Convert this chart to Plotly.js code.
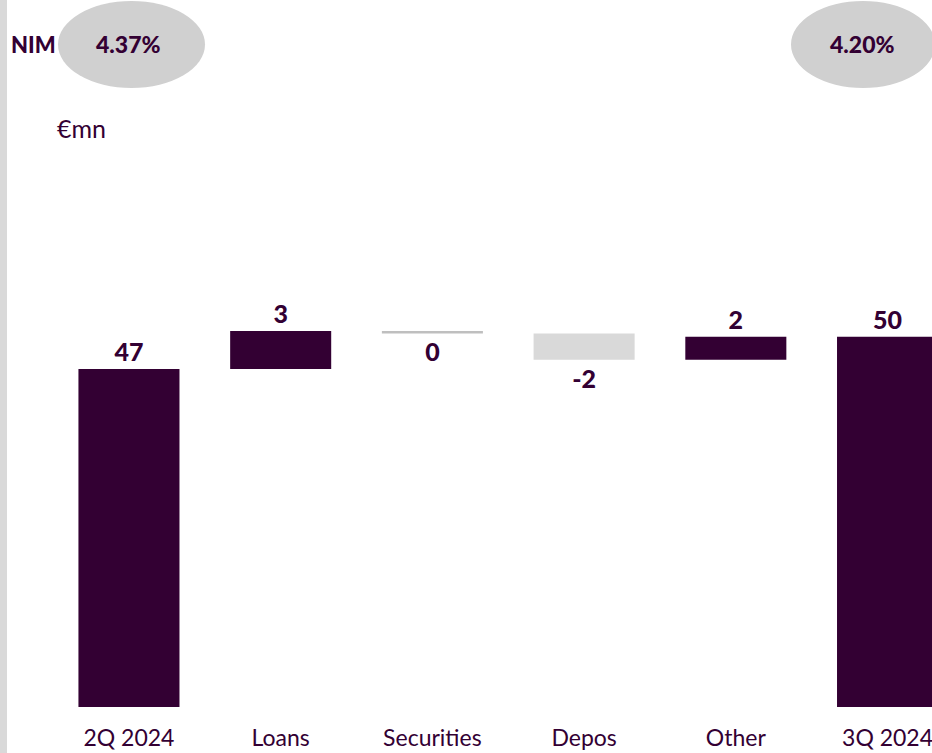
<!DOCTYPE html>
<html><head><meta charset="utf-8">
<script src="https://cdn.plot.ly/plotly-3.0.1.min.js"></script>
<style>html,body{margin:0;padding:0;background:#fff}#chart{width:932px;height:753px}</style>
</head><body><div id="chart"></div>
<script>
const categories = ["2Q 2024", "Loans", "Securities", "Depos", "Other", "3Q 2024"];
const measures = ["total", "relative", "relative", "relative", "relative", "total"];
const values = [47.3, 3.3, -0.2, -2.3, 2.0, 50.1];
const barColors = ["#330033", "#330033", "#bfbfbf", "#d9d9d9", "#330033", "#330033"];
const nimLabels = ["4.37%", "4.20%"];
const unitLabel = "€mn";

const W = 932, H = 753, B = 46, PH = H - B;
const bases = [], heights = [];
let run = 0;
values.forEach((v, i) => {
  if (measures[i] === "total") { bases.push(0); heights.push(v); run = v; }
  else { bases.push(run); heights.push(v); run += v; }
});
const labels = values.map(v => { const r = Math.round(v); return (r === 0 ? 0 : r).toString(); });

const purple = "#330033";
const trace = {
  type: "bar", x: categories, y: heights, base: bases,
  marker: {color: barColors},
  width: 0.666,
  text: labels, textposition: "outside", cliponaxis: false, constraintext: "none",
  textfont: {family: "Lato, sans-serif", size: 25, color: purple, weight: 900},
  hoverinfo: "none"
};
const px = x => x / W, py = y => (PH - y) / PH;
const layout = {
  width: W, height: H, margin: {l: 0, r: 0, t: 0, b: B},
  paper_bgcolor: "#fff", plot_bgcolor: "#fff", showlegend: false,
  xaxis: {type: "category", range: [-0.85, 5.293], showline: false, ticks: "", showgrid: false, zeroline: false,
    tickfont: {family: "Lato, sans-serif", size: 23, color: purple}, ticklabelstandoff: 15, fixedrange: true},
  yaxis: {range: [17.91, 79.39], visible: false, showgrid: false, zeroline: false, fixedrange: true},
  shapes: [
    {type: "rect", xref: "paper", yref: "paper", x0: 0, x1: px(7), y0: py(H), y1: py(0), fillcolor: "#d9d9d9", line: {width: 0}},
    {type: "circle", xref: "paper", yref: "paper", x0: px(58), x1: px(205), y0: py(88), y1: py(1), fillcolor: "#d0d0d0", line: {width: 0}},
    {type: "circle", xref: "paper", yref: "paper", x0: px(791), x1: px(935), y0: py(88), y1: py(1), fillcolor: "#d0d0d0", line: {width: 0}}
  ],
  annotations: [
    {xref: "paper", yref: "paper", x: px(33), y: py(45), text: "NIM", showarrow: false, xanchor: "center", yanchor: "middle",
      font: {family: "Lato, sans-serif", size: 22, color: purple, weight: 900}},
    {xref: "paper", yref: "paper", x: px(128), y: py(44), text: nimLabels[0], showarrow: false, xanchor: "center", yanchor: "middle",
      font: {family: "Lato, sans-serif", size: 23, color: purple, weight: 900}},
    {xref: "paper", yref: "paper", x: px(862), y: py(44), text: nimLabels[1], showarrow: false, xanchor: "center", yanchor: "middle",
      font: {family: "Lato, sans-serif", size: 23, color: purple, weight: 900}},
    {xref: "paper", yref: "paper", x: px(55), y: py(128), text: unitLabel, showarrow: false, xanchor: "left", yanchor: "middle",
      font: {family: "Lato, sans-serif", size: 25, color: purple}}
  ]
};
Plotly.newPlot("chart", [trace], layout, {displayModeBar: false, staticPlot: true});
</script></body></html>
